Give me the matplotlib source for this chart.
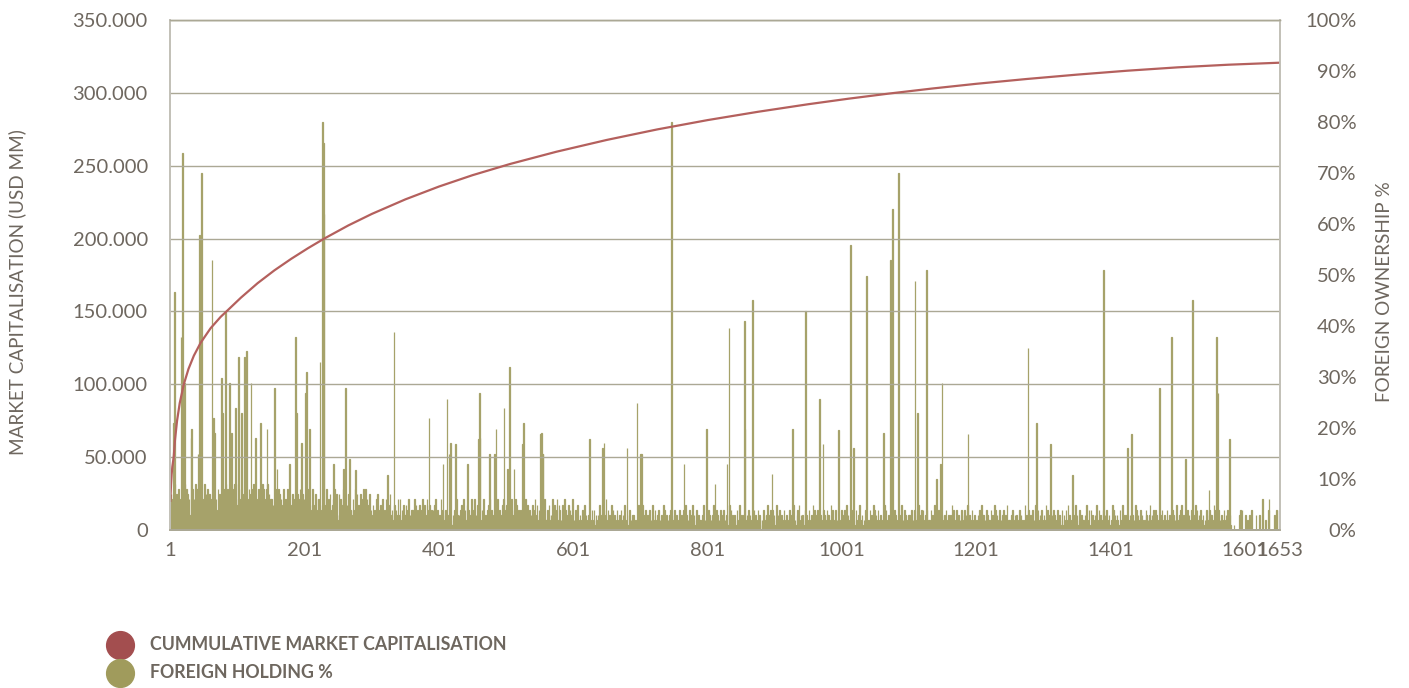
import matplotlib.pyplot as plt
import numpy as np
from matplotlib.lines import Line2D
from matplotlib.ticker import FuncFormatter

# foreign holding % per company, one digit per bar (low "grass" level, in %)
holding_digits = """
4736285947 5384629573 6295847362 3758264958 8463927546 2957486375 6384759263 4827365948 7539284657 3648579264
5926384753 4759263847 6283947562 3847562938 5268394756 3625174836 2847361528 4163852740 5374162837 2658314726
3716248352 4285137641 1637425836 5248316274 3562814730 2736451827 4815372641 3264185273 5137426381 2846153724
3152403627 1425316204 2631452713 4203514236 1362041523 3514260314 2403615243 1524306152 3261405234 0425163241
2316045213 4152360421 1304256132 3241503614 2153402361 1426031524 3512406213 2041536142 1325402631 4213056124
2531402163 1304625142 3412503216 2153041325 1426305214 3205143612 2143502316 1352406125 4021531642 2315041326
1204315021 3120412503 0213502140 2401320315 1302140236 2041302514 0312041203 1420315021 2103402130 3012041520
1205130241 0321402153 2140230412 1302514023 0213041302 2401320140 1320412503 0214032150 3102401321 2031502140
1403120325 0214031204 2130412031 1025140320 3201402153 0132041203 2403120514 1302041320 0214302135 2130402413
1025031402 3102412031 0241302150 2103405213 1320140302 0412031524 2031402130 1204312043 3021504120 1402130214
2130412503 0213401320 1402135021 3012041302 2140312504 0321402130 1203514023 2041302140 3102401325 0214032103
1320412041 2031502314 0412031402 1204132051 3021402130 2103041203 0132504120 1402312043 2014031502 3120402130
0213041253 1302140320 2041302514 0312041203 1420315021 2103402130 3012041320 1205130241 0321402153 2140230412
1302514023 0213041302 2401320140 1320412503 0214032150 3102401321 2031502140 1403120325 0214031204 2130412031
1025140320 3201402153 0132041203 2403120514 1302041320 0214302135 2130402413 1025031402 3102412031 0241302150
2103405213 1320140302 0412031524 2031402130 1204312043 3021504120 1402130214 2130412031 0000100000 0030404000
0300200300 4000000300 0030006000 0200040000 0000300400 040
"""

# taller bars read individually (0-based company position, %)
spike_idx = [5, 6, 16, 18, 21, 31, 32, 41, 43, 44, 46, 62, 64, 66, 76, 78, 82, 88, 91, 97,
             102, 106, 110, 113, 120, 127, 134, 144, 155, 159, 177, 186, 188, 195, 201, 203, 207,
             223, 227, 228, 229, 243, 258, 261, 267, 276, 323, 333, 385, 406, 412, 415, 417, 425,
             443, 459, 460, 461, 475, 483, 485, 497, 502, 505, 512, 524, 526, 551, 553, 554, 555,
             624, 644, 646, 680, 695, 700, 702, 746, 765, 798, 811, 829, 832, 855, 856, 867, 896,
             927, 946, 967, 972, 995, 1013, 1017, 1037, 1062, 1072, 1075, 1084, 1109, 1113, 1126,
             1141, 1147, 1149, 1188, 1277, 1290, 1311, 1343, 1390, 1425, 1431, 1473, 1491, 1512,
             1522, 1547, 1558, 1560, 1577, 1636]
spike_pct = [21, 46.7, 37.9, 74, 28.8, 18, 19.8, 15, 57.8, 24, 70, 52.9, 22, 19, 29.8, 23, 42.8, 28.8, 19, 23.9,
             33.9, 23, 33.9, 35.1, 28.8, 18, 21, 19.8, 27.8, 12, 13, 37.8, 23, 17, 26.8, 31, 19.8,
             33, 80, 75.9, 62, 13, 12, 27.8, 13.9, 11.8, 10.8, 38.8, 22, 13, 25.7, 15, 17, 16.9,
             13, 17.8, 26.8, 18, 15, 15, 19.8, 24, 12, 31.9, 12, 16.9, 21, 18.8, 19, 15, 15,
             17.8, 16, 17, 16, 24.9, 15, 15, 80, 13, 19.8, 9, 13, 39.7, 40.9, 19.8, 45.1, 11,
             19.8, 43, 25.7, 16.9, 19.7, 55.9, 16, 49.8, 19, 52.9, 62.9, 70, 48.8, 22.9, 51,
             10, 13, 28.8, 18.8, 35.7, 21, 16.9, 10.8, 51, 16, 18.8, 27.8, 37.8, 13.9,
             45.1, 7.8, 37.8, 26.8, 17.8, 6]

# cumulative market capitalisation (USD MM) at selected positions
curve_idx = [0, 1, 2, 3, 5, 7, 10, 14, 20, 27, 35, 45, 60, 75, 87, 105, 130, 155, 180, 205,
             230, 265, 300, 350, 400, 450, 506, 575, 650, 725, 800, 875, 950, 1010, 1070, 1135,
             1200, 1275, 1350, 1425, 1500, 1575, 1652]
curve_val = [20000, 31000, 38500, 43500, 50000, 62100, 75000, 87100, 99900, 110500, 119600,
             128400, 138500, 146300, 151500, 159400, 169400, 178200, 186100, 193400,
             200200, 209000, 216900, 226900, 235700, 243500, 251200, 259600, 267700, 274900,
             281300, 287000, 292200, 296000, 299500, 303000, 306200, 309500, 312500, 315200,
             317500, 319300, 320700]

tick_pos = [0, 200, 400, 600, 800, 1000, 1200, 1400, 1600, 1652]
tick_lbl = ["1", "201", "401", "601", "801", "1001", "1201", "1401", "1601", "1653"]

holding = np.array([int(c) for c in holding_digits if c.isdigit()], dtype=float)
holding[spike_idx] = spike_pct
pos = np.arange(len(holding))

FONT = "Lato"
TXT = "#6e675f"
GRID = "#aba895"
OLIVE = "#a6a26a"
RED = "#b4605d"

fig = plt.figure(figsize=(14.09, 6.88), dpi=100)
ax = fig.add_axes([170 / 1409, 1 - 530 / 688, 1110 / 1409, 510 / 688])
ax2 = ax.twinx()

# bars on the right (percentage) axis, line + grid on top
ax2.bar(pos, holding, width=1.0, color=OLIVE, edgecolor=OLIVE, linewidth=0.9)
ax2.set_ylim(0, 100)
ax2.set_xlim(-0.5, len(holding) - 0.5)

ax.set_zorder(ax2.get_zorder() + 1)
ax.patch.set_visible(False)
ax.plot(curve_idx, curve_val, color=RED, linewidth=1.6)
ax.set_ylim(0, 350000)
ax.set_xlim(-0.5, len(holding) - 0.5)
ax.set_yticks(np.arange(0, 350001, 50000))
ax.yaxis.set_major_formatter(FuncFormatter(lambda v, p: f"{v:,.0f}".replace(",", ".")))
ax.grid(True, axis="y", color=GRID, linewidth=1.0)
ax.set_xticks(tick_pos)
ax.set_xticklabels(tick_lbl)

ax2.set_yticks(np.arange(0, 101, 10))
ax2.set_yticklabels([f"{v}%" for v in range(0, 101, 10)])

for a in (ax, ax2):
    for s in a.spines.values():
        s.set_color("#c3c1b8")
        s.set_linewidth(1.3)
    a.spines["bottom"].set_color(GRID)
    a.spines["top"].set_color(GRID)
    a.spines["top"].set_linewidth(1.0)

ax.tick_params(axis="y", length=0, pad=16, labelsize=14.5, labelcolor=TXT)
ax.tick_params(axis="x", length=0, pad=9, labelsize=14.5, labelcolor=TXT)
ax2.tick_params(axis="y", length=0, pad=55, labelsize=14.5, labelcolor=TXT)
for lbl in ax2.get_yticklabels():
    lbl.set_horizontalalignment("right")
for lbl in ax.get_xticklabels() + ax.get_yticklabels() + ax2.get_yticklabels():
    lbl.set_fontfamily(FONT)

fig.text(17 / 1409, 1 - 292 / 688, "MARKET CAPITALISATION (USD MM)", rotation=90,
         ha="center", va="center", fontsize=13.6, color=TXT, family=FONT)
fig.text(1385 / 1409, 1 - 292 / 688, "FOREIGN OWNERSHIP %", rotation=90,
         ha="center", va="center", fontsize=13.6, color=TXT, family=FONT)

# legend drawn by hand at bottom left
legend_items = [("CUMMULATIVE MARKET CAPITALISATION", "#a34e4f", 645),
                ("FOREIGN HOLDING %", "#a09b5c", 673)]
for text, col, ypx in legend_items:
    fig.add_artist(Line2D([120 / 1409], [1 - ypx / 688], marker="o", markersize=20,
                          color=col, linestyle="none", transform=fig.transFigure))
    fig.text(150 / 1409, 1 - ypx / 688, text, ha="left", va="center", fontsize=12.8,
             color=TXT, family=FONT, weight="bold")

fig.savefig("out.png", dpi=100)
